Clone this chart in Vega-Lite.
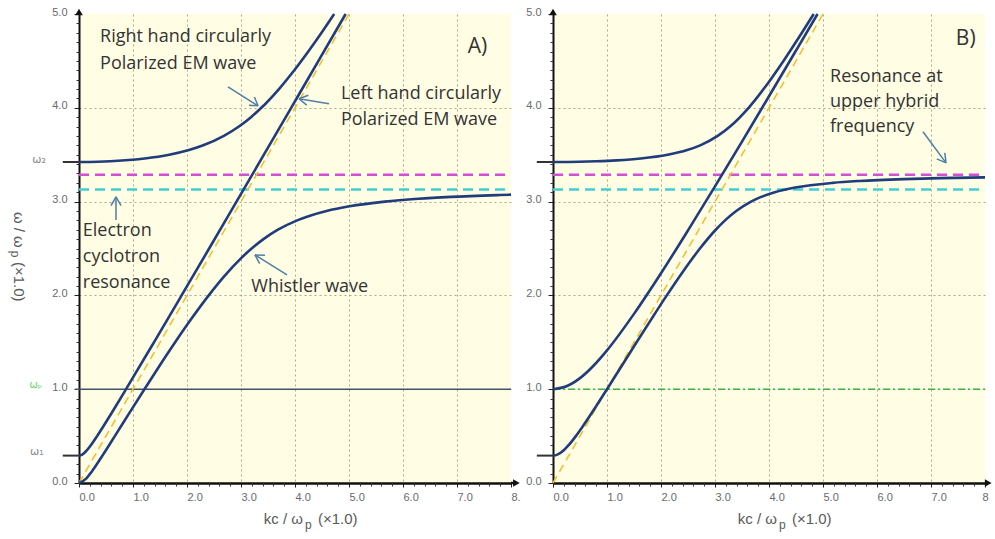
{
  "$schema": "https://vega.github.io/schema/vega-lite/v6.json",
  "background": "white",
  "padding": {"left": 8, "top": 6, "right": 0, "bottom": 0},
  "bounds": "flush",
  "spacing": 42,
  "config": {
    "view": {"fill": "#fffde3", "stroke": null},
    "axis": {
      "domainColor": "#111111",
      "domainWidth": 2,
      "tickColor": "#222222",
      "tickWidth": 1,
      "labelColor": "#6a6a6a",
      "labelFont": "Liberation Sans",
      "labelFontSize": 11,
      "gridColor": "#a8a88c",
      "gridDash": [2, 3],
      "gridWidth": 1,
      "labelOverlap": false,
      "labelFlush": false,
      "labelBound": false
    },
    "axisX": {"domainWidth": 2.5},
    "text": {"font": "Open Sans", "fontSize": 18, "color": "#333333", "align": "left", "baseline": "middle"}
  },
  "datasets": {
    "curvesA": [
      {"branch": "R", "k": 0, "w": 3.422}, {"branch": "R", "k": 0.348, "w": 3.425}, {"branch": "R", "k": 0.576, "w": 3.43},
      {"branch": "R", "k": 0.858, "w": 3.44}, {"branch": "R", "k": 1.219, "w": 3.46}, {"branch": "R", "k": 1.671, "w": 3.5},
      {"branch": "R", "k": 2.037, "w": 3.55}, {"branch": "R", "k": 2.302, "w": 3.6}, {"branch": "R", "k": 2.683, "w": 3.7},
      {"branch": "R", "k": 2.961, "w": 3.8}, {"branch": "R", "k": 3.185, "w": 3.9}, {"branch": "R", "k": 3.377, "w": 4.0},
      {"branch": "R", "k": 3.703, "w": 4.2}, {"branch": "R", "k": 3.987, "w": 4.4}, {"branch": "R", "k": 4.246, "w": 4.6},
      {"branch": "R", "k": 4.491, "w": 4.8}, {"branch": "R", "k": 4.725, "w": 5.0},
      {"branch": "L", "k": 0, "w": 0.292}, {"branch": "L", "k": 0.05, "w": 0.3}, {"branch": "L", "k": 0.098, "w": 0.32},
      {"branch": "L", "k": 0.148, "w": 0.35}, {"branch": "L", "k": 0.216, "w": 0.4}, {"branch": "L", "k": 0.335, "w": 0.5},
      {"branch": "L", "k": 0.446, "w": 0.6}, {"branch": "L", "k": 0.661, "w": 0.8}, {"branch": "L", "k": 0.871, "w": 1.0},
      {"branch": "L", "k": 1.388, "w": 1.5}, {"branch": "L", "k": 1.9, "w": 2.0}, {"branch": "L", "k": 2.41, "w": 2.5},
      {"branch": "L", "k": 2.917, "w": 3.0}, {"branch": "L", "k": 3.424, "w": 3.5}, {"branch": "L", "k": 3.929, "w": 4.0},
      {"branch": "L", "k": 4.434, "w": 4.5}, {"branch": "L", "k": 4.938, "w": 5.0},
      {"branch": "W", "k": 0, "w": 0}, {"branch": "W", "k": 0.137, "w": 0.05}, {"branch": "W", "k": 0.207, "w": 0.1},
      {"branch": "W", "k": 0.329, "w": 0.2}, {"branch": "W", "k": 0.443, "w": 0.3}, {"branch": "W", "k": 0.663, "w": 0.5},
      {"branch": "W", "k": 0.937, "w": 0.75}, {"branch": "W", "k": 1.212, "w": 1.0}, {"branch": "W", "k": 1.492, "w": 1.25},
      {"branch": "W", "k": 1.78, "w": 1.5}, {"branch": "W", "k": 2.081, "w": 1.75}, {"branch": "W", "k": 2.402, "w": 2.0},
      {"branch": "W", "k": 2.684, "w": 2.2}, {"branch": "W", "k": 3.008, "w": 2.4}, {"branch": "W", "k": 3.197, "w": 2.5},
      {"branch": "W", "k": 3.416, "w": 2.6}, {"branch": "W", "k": 3.684, "w": 2.7}, {"branch": "W", "k": 4.04, "w": 2.8},
      {"branch": "W", "k": 4.278, "w": 2.85}, {"branch": "W", "k": 4.585, "w": 2.9}, {"branch": "W", "k": 5.009, "w": 2.95},
      {"branch": "W", "k": 5.664, "w": 3.0}, {"branch": "W", "k": 6.283, "w": 3.03}, {"branch": "W", "k": 6.887, "w": 3.05},
      {"branch": "W", "k": 7.784, "w": 3.07}, {"branch": "W", "k": 8.0, "w": 3.074}
    ],
    "curvesB": [
      {"branch": "O", "k": 0, "w": 1.0}, {"branch": "O", "k": 0.25, "w": 1.031}, {"branch": "O", "k": 0.5, "w": 1.118},
      {"branch": "O", "k": 0.75, "w": 1.25}, {"branch": "O", "k": 1.0, "w": 1.414}, {"branch": "O", "k": 1.5, "w": 1.803},
      {"branch": "O", "k": 2.0, "w": 2.236}, {"branch": "O", "k": 2.5, "w": 2.693}, {"branch": "O", "k": 3.0, "w": 3.162},
      {"branch": "O", "k": 3.5, "w": 3.64}, {"branch": "O", "k": 4.0, "w": 4.123}, {"branch": "O", "k": 4.5, "w": 4.61},
      {"branch": "O", "k": 4.899, "w": 5.0},
      {"branch": "XU", "k": 0, "w": 3.422}, {"branch": "XU", "k": 0.49, "w": 3.425}, {"branch": "XU", "k": 0.802, "w": 3.43},
      {"branch": "XU", "k": 1.178, "w": 3.44}, {"branch": "XU", "k": 1.623, "w": 3.46}, {"branch": "XU", "k": 2.123, "w": 3.5},
      {"branch": "XU", "k": 2.485, "w": 3.55}, {"branch": "XU", "k": 2.726, "w": 3.6}, {"branch": "XU", "k": 3.05, "w": 3.7},
      {"branch": "XU", "k": 3.279, "w": 3.8}, {"branch": "XU", "k": 3.622, "w": 4.0}, {"branch": "XU", "k": 3.9, "w": 4.2},
      {"branch": "XU", "k": 4.268, "w": 4.5}, {"branch": "XU", "k": 4.609, "w": 4.8}, {"branch": "XU", "k": 4.828, "w": 5.0},
      {"branch": "XL", "k": 0, "w": 0.292}, {"branch": "XL", "k": 0.071, "w": 0.3}, {"branch": "XL", "k": 0.2, "w": 0.35},
      {"branch": "XL", "k": 0.285, "w": 0.4}, {"branch": "XL", "k": 0.423, "w": 0.5}, {"branch": "XL", "k": 0.547, "w": 0.6},
      {"branch": "XL", "k": 0.778, "w": 0.8}, {"branch": "XL", "k": 1.0, "w": 1.0}, {"branch": "XL", "k": 1.274, "w": 1.25},
      {"branch": "XL", "k": 1.548, "w": 1.5}, {"branch": "XL", "k": 1.825, "w": 1.75}, {"branch": "XL", "k": 2.107, "w": 2.0},
      {"branch": "XL", "k": 2.402, "w": 2.25}, {"branch": "XL", "k": 2.721, "w": 2.5}, {"branch": "XL", "k": 3.014, "w": 2.7},
      {"branch": "XL", "k": 3.186, "w": 2.8}, {"branch": "XL", "k": 3.393, "w": 2.9}, {"branch": "XL", "k": 3.668, "w": 3.0},
      {"branch": "XL", "k": 3.855, "w": 3.05}, {"branch": "XL", "k": 4.107, "w": 3.1}, {"branch": "XL", "k": 4.486, "w": 3.15},
      {"branch": "XL", "k": 5.18, "w": 3.2}, {"branch": "XL", "k": 5.677, "w": 3.22}, {"branch": "XL", "k": 6.499, "w": 3.24},
      {"branch": "XL", "k": 7.167, "w": 3.25}, {"branch": "XL", "k": 8.0, "w": 3.258}
    ],
    "cutoffs": [{"w": 3.422}, {"w": 0.292}],
    "arrowsA": [
      {"k": 2.759, "w": 4.224, "k2": 3.315, "w2": 4.021},
      {"k": 3.315, "w": 4.021, "k2": 3.248, "w2": 4.116},
      {"k": 3.315, "w": 4.021, "k2": 3.148, "w2": 4.026},
      {"k": 4.63, "w": 4.043, "k2": 4.074, "w2": 4.096},
      {"k": 4.074, "w": 4.096, "k2": 4.217, "w2": 4.028},
      {"k": 4.074, "w": 4.096, "k2": 4.248, "w2": 4.133},
      {"k": 0.685, "w": 2.805, "k2": 0.685, "w2": 3.051},
      {"k": 0.685, "w": 3.051, "k2": 0.593, "w2": 2.958},
      {"k": 0.685, "w": 3.051, "k2": 0.778, "w2": 2.958},
      {"k": 3.852, "w": 2.219, "k2": 3.259, "w2": 2.432},
      {"k": 3.259, "w": 2.432, "k2": 3.346, "w2": 2.338},
      {"k": 3.259, "w": 2.432, "k2": 3.444, "w2": 2.427}
    ],
    "arrowsB": [
      {"k": 6.852, "w": 3.744, "k2": 7.278, "w2": 3.413},
      {"k": 7.278, "w": 3.413, "k2": 7.256, "w2": 3.519},
      {"k": 7.278, "w": 3.413, "k2": 7.107, "w2": 3.456}
    ],
    "notesA": [
      {"k": 0.39, "w": 4.75, "t": "Right hand circularly"},
      {"k": 0.39, "w": 4.47, "t": "Polarized EM wave"},
      {"k": 4.85, "w": 4.15, "t": "Left hand circularly"},
      {"k": 4.85, "w": 3.87, "t": "Polarized EM wave"},
      {"k": 0.07, "w": 2.69, "t": "Electron"},
      {"k": 0.07, "w": 2.41, "t": "cyclotron"},
      {"k": 0.07, "w": 2.13, "t": "resonance"},
      {"k": 3.19, "w": 2.09, "t": "Whistler wave"}
    ],
    "notesB": [
      {"k": 5.13, "w": 4.33, "t": "Resonance at"},
      {"k": 5.13, "w": 4.06, "t": "upper hybrid"},
      {"k": 5.13, "w": 3.8, "t": "frequency"}
    ],
    "freqLabels": [
      {"k": -0.74, "w": 3.445, "t": "ω₂"},
      {"k": -0.78, "w": 0.335, "t": "ω₁"}
    ],
    "xTitleMain": [
      {"k": 4.148, "w": -0.384, "t": "kc / ω"}
    ],
    "xTitleRest": [
      {"k": 4.426, "w": -0.384, "t": "(×1.0)"}
    ],
    "xTitleSub": [
      {"k": 4.185, "w": -0.45, "t": "p"}
    ],
    "yTitleMain": [
      {"k": -1.102, "w": 2.507, "t": "ω / ω"}
    ],
    "yTitleRest": [
      {"k": -1.102, "w": 2.357, "t": "(×1.0)"}
    ],
    "yTitleSub": [
      {"k": -1.194, "w": 2.475, "t": "p"}
    ],
    "one": [{}]
  },
  "hconcat": [
    {
      "width": 432,
      "height": 469,
      "resolve": {"axis": {"x": "independent", "y": "independent"}},
      "layer": [
        {
          "layer": [
            {
              "data": {"name": "one"},
              "mark": {"type": "rule", "color": "#3d5565", "strokeWidth": 1.6},
              "encoding": {"x": {"datum": -0.07}, "x2": {"datum": 8}, "y": {"datum": 1}}
            },
            {
              "data": {"name": "one"},
              "mark": {"type": "rule", "color": "#d24fd4", "strokeWidth": 2.5, "strokeDash": [10, 6]},
              "encoding": {"x": {"datum": 0}, "x2": {"datum": 8}, "y": {"datum": 3.286}}
            },
            {
              "data": {"name": "one"},
              "mark": {"type": "rule", "color": "#3fcfd6", "strokeWidth": 2.5, "strokeDash": [10, 6]},
              "encoding": {"x": {"datum": 0}, "x2": {"datum": 8}, "y": {"datum": 3.13}}
            },
            {
              "data": {"name": "one"},
              "mark": {"type": "rule", "color": "#f2c037", "strokeWidth": 1.6, "strokeDash": [8, 5]},
              "encoding": {"x": {"datum": 0}, "y": {"datum": 0}, "x2": {"datum": 5}, "y2": {"datum": 5}}
            },
            {
              "data": {"name": "cutoffs"},
              "mark": {"type": "rule", "color": "#333333", "strokeWidth": 2},
              "encoding": {"x": {"datum": -0.3}, "x2": {"datum": 0}, "y": {"field": "w", "type": "quantitative"}}
            },
            {
              "data": {"name": "curvesA"},
              "mark": {"type": "line", "color": "#203c7c", "strokeWidth": 2.6, "interpolate": "monotone"},
              "encoding": {
                "x": {
                  "field": "k", "type": "quantitative",
                  "scale": {"domain": [0, 8], "nice": false, "zero": false},
                  "axis": {
                    "orient": "bottom",
                    "values": [0, 1, 2, 3, 4, 5, 6, 7, 8],
                    "labelExpr": "datum.value == 8 ? '8.' : format(datum.value, '.1f')",
                    "labelOverlap": false,
                    "labelAlign": "left",
                    "labelDx": 1,
                    "labelPadding": 4,
                    "tickSize": 4,
                    "grid": true,
                    "gridOpacity": {"condition": {"test": "datum.value > 0.5 && datum.value < 7.5", "value": 1}, "value": 0},
                    "title": null
                  }
                },
                "y": {
                  "field": "w", "type": "quantitative",
                  "scale": {"domain": [0, 5], "nice": false, "zero": false},
                  "axis": {
                    "orient": "left",
                    "values": [0, 1, 2, 3, 4, 5],
                    "labelExpr": "format(datum.value, '.1f')",
                    "labelOverlap": false,
                    "labelPadding": 7,
                    "labelOffset": -2,
                    "tickSize": 5,
                    "grid": true,
                    "gridOpacity": {"condition": {"test": "datum.value > 0.5 && datum.value < 4.5", "value": 1}, "value": 0},
                    "title": null
                  }
                },
                "detail": {"field": "branch"}
              }
            },
            {
              "data": {"name": "arrowsA"},
              "mark": {"type": "rule", "color": "#4f7fa6", "strokeWidth": 1.5},
              "encoding": {
                "x": {"field": "k", "type": "quantitative"}, "x2": {"field": "k2"},
                "y": {"field": "w", "type": "quantitative"}, "y2": {"field": "w2"}
              }
            },
            {
              "data": {"name": "notesA"},
              "mark": {"type": "text"},
              "encoding": {
                "x": {"field": "k", "type": "quantitative"},
                "y": {"field": "w", "type": "quantitative"},
                "text": {"field": "t"}
              }
            },
            {
              "data": {"name": "one"},
              "mark": {"type": "text", "fontSize": 21},
              "encoding": {"x": {"datum": 7.2}, "y": {"datum": 4.65}, "text": {"value": "A)"}}
            },
            {
              "data": {"name": "freqLabels"},
              "mark": {"type": "text", "font": "DejaVu Sans", "fontSize": 11, "color": "#8a8a8a", "align": "center"},
              "encoding": {
                "x": {"field": "k", "type": "quantitative"},
                "y": {"field": "w", "type": "quantitative"},
                "text": {"field": "t"}
              }
            },
            {
              "data": {"name": "one"},
              "mark": {"type": "text", "font": "DejaVu Sans", "fontSize": 10, "color": "#6fcf6f", "align": "center"},
              "encoding": {"x": {"datum": -0.8}, "y": {"datum": 1.045}, "text": {"value": "ωₚ"}}
            },
            {
              "data": {"name": "xTitleMain"},
              "mark": {"type": "text", "font": "Liberation Sans", "fontSize": 15, "color": "#5a5a5a", "align": "right"},
              "encoding": {"x": {"field": "k", "type": "quantitative"}, "y": {"field": "w", "type": "quantitative"}, "text": {"field": "t"}}
            },
            {
              "data": {"name": "xTitleSub"},
              "mark": {"type": "text", "font": "Liberation Sans", "fontSize": 12, "color": "#5a5a5a", "align": "left"},
              "encoding": {"x": {"field": "k", "type": "quantitative"}, "y": {"field": "w", "type": "quantitative"}, "text": {"field": "t"}}
            },
            {
              "data": {"name": "xTitleRest"},
              "mark": {"type": "text", "font": "Liberation Sans", "fontSize": 15, "color": "#5a5a5a", "align": "left"},
              "encoding": {"x": {"field": "k", "type": "quantitative"}, "y": {"field": "w", "type": "quantitative"}, "text": {"field": "t"}}
            },
            {
              "data": {"name": "yTitleMain"},
              "mark": {"type": "text", "font": "Liberation Sans", "fontSize": 15, "color": "#5a5a5a", "align": "right", "angle": 90},
              "encoding": {"x": {"field": "k", "type": "quantitative"}, "y": {"field": "w", "type": "quantitative"}, "text": {"field": "t"}}
            },
            {
              "data": {"name": "yTitleSub"},
              "mark": {"type": "text", "font": "Liberation Sans", "fontSize": 12, "color": "#5a5a5a", "align": "left", "angle": 90},
              "encoding": {"x": {"field": "k", "type": "quantitative"}, "y": {"field": "w", "type": "quantitative"}, "text": {"field": "t"}}
            },
            {
              "data": {"name": "yTitleRest"},
              "mark": {"type": "text", "font": "Liberation Sans", "fontSize": 15, "color": "#5a5a5a", "align": "left", "angle": 90},
              "encoding": {"x": {"field": "k", "type": "quantitative"}, "y": {"field": "w", "type": "quantitative"}, "text": {"field": "t"}}
            },
            {
              "data": {"name": "one"},
              "mark": {"type": "point", "shape": "triangle-up", "filled": true, "color": "#111111", "opacity": 1, "size": 60, "yOffset": -2},
              "encoding": {"x": {"datum": 0}, "y": {"datum": 5}}
            },
            {
              "data": {"name": "one"},
              "mark": {"type": "rule", "color": "#111111", "strokeWidth": 2.5},
              "encoding": {"x": {"datum": 8}, "x2": {"datum": 8.08}, "y": {"datum": 0}}
            },
            {
              "data": {"name": "one"},
              "mark": {"type": "point", "shape": "triangle-right", "filled": true, "color": "#111111", "opacity": 1, "size": 60},
              "encoding": {"x": {"datum": 8.1}, "y": {"datum": 0}}
            }
          ]
        },
        {
          "data": {"name": "one"},
          "mark": {"type": "rule", "opacity": 0},
          "encoding": {
            "x": {
              "datum": 0, "type": "quantitative",
              "axis": {
                "orient": "bottom",
                "values": [0.2, 0.4, 0.6, 0.8, 1.2, 1.4, 1.6, 1.8, 2.2, 2.4, 2.6, 2.8, 3.2, 3.4, 3.6, 3.8, 4.2, 4.4, 4.6, 4.8, 5.2, 5.4, 5.6, 5.8, 6.2, 6.4, 6.6, 6.8, 7.2, 7.4, 7.6, 7.8],
                "labels": false, "domain": false, "grid": false, "tickSize": 3, "tickColor": "#333333", "title": null
              }
            },
            "y": {
              "datum": 0, "type": "quantitative",
              "axis": {
                "orient": "left",
                "values": [0.1, 0.2, 0.3, 0.4, 0.5, 0.6, 0.7, 0.8, 0.9, 1.1, 1.2, 1.3, 1.4, 1.5, 1.6, 1.7, 1.8, 1.9, 2.1, 2.2, 2.3, 2.4, 2.5, 2.6, 2.7, 2.8, 2.9, 3.1, 3.2, 3.3, 3.4, 3.5, 3.6, 3.7, 3.8, 3.9, 4.1, 4.2, 4.3, 4.4, 4.5, 4.6, 4.7, 4.8, 4.9],
                "labels": false, "domain": false, "grid": false, "tickSize": 3, "tickColor": "#333333", "title": null
              }
            }
          }
        }
      ]
    },
    {
      "width": 432,
      "height": 469,
      "resolve": {"axis": {"x": "independent", "y": "independent"}},
      "layer": [
        {
          "layer": [
            {
              "data": {"name": "one"},
              "mark": {"type": "rule", "color": "#3cb043", "strokeWidth": 1.6, "strokeDash": [7, 3, 2, 3]},
              "encoding": {"x": {"datum": 0}, "x2": {"datum": 8}, "y": {"datum": 1}}
            },
            {
              "data": {"name": "one"},
              "mark": {"type": "rule", "color": "#d24fd4", "strokeWidth": 2.5, "strokeDash": [10, 6]},
              "encoding": {"x": {"datum": 0}, "x2": {"datum": 8}, "y": {"datum": 3.286}}
            },
            {
              "data": {"name": "one"},
              "mark": {"type": "rule", "color": "#3fcfd6", "strokeWidth": 2.5, "strokeDash": [10, 6]},
              "encoding": {"x": {"datum": 0}, "x2": {"datum": 8}, "y": {"datum": 3.13}}
            },
            {
              "data": {"name": "one"},
              "mark": {"type": "rule", "color": "#f2c037", "strokeWidth": 1.6, "strokeDash": [8, 5]},
              "encoding": {"x": {"datum": 0}, "y": {"datum": 0}, "x2": {"datum": 5}, "y2": {"datum": 5}}
            },
            {
              "data": {"name": "cutoffs"},
              "mark": {"type": "rule", "color": "#333333", "strokeWidth": 2},
              "encoding": {"x": {"datum": -0.3}, "x2": {"datum": 0}, "y": {"field": "w", "type": "quantitative"}}
            },
            {
              "data": {"name": "curvesB"},
              "mark": {"type": "line", "color": "#203c7c", "strokeWidth": 2.6, "interpolate": "monotone"},
              "encoding": {
                "x": {
                  "field": "k", "type": "quantitative",
                  "scale": {"domain": [0, 8], "nice": false, "zero": false},
                  "axis": {
                    "orient": "bottom",
                    "values": [0, 1, 2, 3, 4, 5, 6, 7, 8],
                    "labelExpr": "datum.value == 8 ? '8' : format(datum.value, '.1f')",
                    "labelOverlap": false,
                    "labelAlign": {"condition": {"test": "datum.value == 8", "value": "center"}, "value": "left"},
                    "labelDx": 1,
                    "labelPadding": 4,
                    "tickSize": 4,
                    "grid": true,
                    "gridOpacity": {"condition": {"test": "datum.value > 0.5 && datum.value < 7.5", "value": 1}, "value": 0},
                    "title": null
                  }
                },
                "y": {
                  "field": "w", "type": "quantitative",
                  "scale": {"domain": [0, 5], "nice": false, "zero": false},
                  "axis": {
                    "orient": "left",
                    "values": [0, 1, 2, 3, 4, 5],
                    "labelExpr": "format(datum.value, '.1f')",
                    "labelOverlap": false,
                    "labelPadding": 7,
                    "labelOffset": -2,
                    "tickSize": 5,
                    "grid": true,
                    "gridOpacity": {"condition": {"test": "datum.value > 0.5 && datum.value < 4.5", "value": 1}, "value": 0},
                    "title": null
                  }
                },
                "detail": {"field": "branch"}
              }
            },
            {
              "data": {"name": "arrowsB"},
              "mark": {"type": "rule", "color": "#4f7fa6", "strokeWidth": 1.5},
              "encoding": {
                "x": {"field": "k", "type": "quantitative"}, "x2": {"field": "k2"},
                "y": {"field": "w", "type": "quantitative"}, "y2": {"field": "w2"}
              }
            },
            {
              "data": {"name": "notesB"},
              "mark": {"type": "text"},
              "encoding": {
                "x": {"field": "k", "type": "quantitative"},
                "y": {"field": "w", "type": "quantitative"},
                "text": {"field": "t"}
              }
            },
            {
              "data": {"name": "one"},
              "mark": {"type": "text", "fontSize": 21},
              "encoding": {"x": {"datum": 7.46}, "y": {"datum": 4.73}, "text": {"value": "B)"}}
            },
            {
              "data": {"name": "xTitleMain"},
              "mark": {"type": "text", "font": "Liberation Sans", "fontSize": 15, "color": "#5a5a5a", "align": "right"},
              "encoding": {"x": {"field": "k", "type": "quantitative"}, "y": {"field": "w", "type": "quantitative"}, "text": {"field": "t"}}
            },
            {
              "data": {"name": "xTitleSub"},
              "mark": {"type": "text", "font": "Liberation Sans", "fontSize": 12, "color": "#5a5a5a", "align": "left"},
              "encoding": {"x": {"field": "k", "type": "quantitative"}, "y": {"field": "w", "type": "quantitative"}, "text": {"field": "t"}}
            },
            {
              "data": {"name": "xTitleRest"},
              "mark": {"type": "text", "font": "Liberation Sans", "fontSize": 15, "color": "#5a5a5a", "align": "left"},
              "encoding": {"x": {"field": "k", "type": "quantitative"}, "y": {"field": "w", "type": "quantitative"}, "text": {"field": "t"}}
            },
            {
              "data": {"name": "one"},
              "mark": {"type": "point", "shape": "triangle-up", "filled": true, "color": "#111111", "opacity": 1, "size": 60, "yOffset": -2},
              "encoding": {"x": {"datum": 0}, "y": {"datum": 5}}
            },
            {
              "data": {"name": "one"},
              "mark": {"type": "rule", "color": "#111111", "strokeWidth": 2.5},
              "encoding": {"x": {"datum": 8}, "x2": {"datum": 8.04}, "y": {"datum": 0}}
            },
            {
              "data": {"name": "one"},
              "mark": {"type": "point", "shape": "triangle-right", "filled": true, "color": "#111111", "opacity": 1, "size": 60},
              "encoding": {"x": {"datum": 8.06}, "y": {"datum": 0}}
            }
          ]
        },
        {
          "data": {"name": "one"},
          "mark": {"type": "rule", "opacity": 0},
          "encoding": {
            "x": {
              "datum": 0, "type": "quantitative",
              "axis": {
                "orient": "bottom",
                "values": [0.2, 0.4, 0.6, 0.8, 1.2, 1.4, 1.6, 1.8, 2.2, 2.4, 2.6, 2.8, 3.2, 3.4, 3.6, 3.8, 4.2, 4.4, 4.6, 4.8, 5.2, 5.4, 5.6, 5.8, 6.2, 6.4, 6.6, 6.8, 7.2, 7.4, 7.6, 7.8],
                "labels": false, "domain": false, "grid": false, "tickSize": 3, "tickColor": "#333333", "title": null
              }
            },
            "y": {
              "datum": 0, "type": "quantitative",
              "axis": {
                "orient": "left",
                "values": [0.1, 0.2, 0.3, 0.4, 0.5, 0.6, 0.7, 0.8, 0.9, 1.1, 1.2, 1.3, 1.4, 1.5, 1.6, 1.7, 1.8, 1.9, 2.1, 2.2, 2.3, 2.4, 2.5, 2.6, 2.7, 2.8, 2.9, 3.1, 3.2, 3.3, 3.4, 3.5, 3.6, 3.7, 3.8, 3.9, 4.1, 4.2, 4.3, 4.4, 4.5, 4.6, 4.7, 4.8, 4.9],
                "labels": false, "domain": false, "grid": false, "tickSize": 3, "tickColor": "#333333", "title": null
              }
            }
          }
        }
      ]
    }
  ]
}
